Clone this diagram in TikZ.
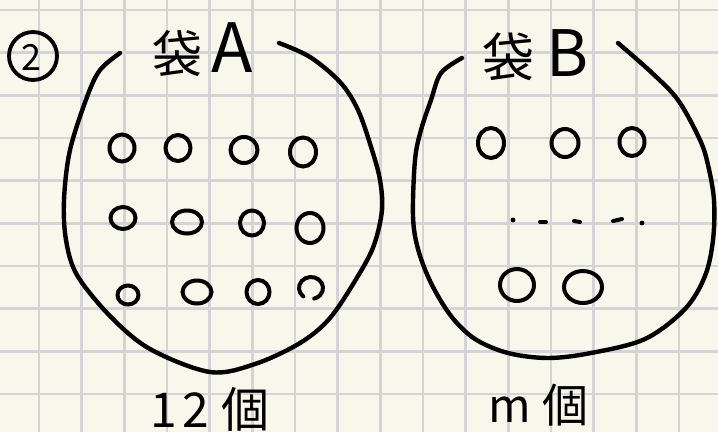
\documentclass[tikz,border=0pt]{standalone}
\usepackage{fontspec}
\newfontfamily\jp{Noto Sans CJK JP}
\definecolor{bgc}{RGB}{248,247,235}
\definecolor{gridc}{RGB}{212,212,216}
\begin{document}
\begin{tikzpicture}[x=1pt,y=-1pt,
  ink/.style={line width=4.4pt, line cap=round, line join=round, black},
  bead/.style={line width=4pt, line cap=round, black},
  gridline/.style={gridc, line width=2.6pt},
  lbl/.style={inner sep=0pt, font=\jp, black}]
\fill[bgc] (0,0) rectangle (718,432);
\useasboundingbox (0,0) rectangle (718,432);
% grid
\foreach \k in {0,...,15} \draw[gridline] ({39+42.67*\k},0) -- ({39+42.67*\k},432);
\foreach \k in {0,...,9} \draw[gridline] (0,{10+42.67*\k}) -- (718,{10+42.67*\k});
% number
\node[circle, draw, line width=3.8pt, minimum size=48pt, inner sep=0pt] (num) at (33,56) {};
\node[lbl, font=\jp\fontsize{36}{36}\selectfont] (numtext) at (31,57) {2};
% titles
\node[lbl, anchor=base west, font=\jp\fontsize{50}{50}\selectfont] (titleA) at (152,72) {袋\hspace{9pt}{\fontsize{68}{68}\selectfont A}};
\node[lbl, anchor=base west, font=\jp\fontsize{52}{52}\selectfont] (titleB) at (482,76) {袋\hspace{12pt}{\fontsize{64}{64}\selectfont B}};
% bag A
\draw[ink] plot[smooth, tension=0.55] coordinates {(120,53) (100,70) (87,97) (70,150) (64,200) (66,240) (77,275) (110,316) (150,349) (210,372) (255,364) (300,343) (330,318) (358,276) (374,245) (382,210) (380,180) (372,150) (358,110) (340,82) (310,57) (279,43)};
% bag B
\draw[ink] plot[smooth, tension=0.55] coordinates {(462,58) (441,73) (431,100) (421,130) (415,160) (413,216) (418,249) (431,283) (451,316) (475,339) (508,353) (548,358) (591,353) (645,339) (685,309) (705,276) (713,240) (714,200) (708,165) (700,140) (678,100) (651,72) (618,43)};
% beads in A
\draw[bead] (122,148) ellipse [x radius=12.5, y radius=13.5];
\draw[bead] (178,148) ellipse [x radius=12.5, y radius=13];
\draw[bead] (244,150) ellipse [x radius=13.5, y radius=13];
\draw[bead] (303,152) ellipse [x radius=13, y radius=14.5];
\draw[bead] (123,218) ellipse [x radius=12.5, y radius=11];
\draw[bead] (187,222) ellipse [x radius=15, y radius=11.5];
\draw[bead] (252,223) ellipse [x radius=12, y radius=12.5];
\draw[bead] (310,228) ellipse [x radius=13.5, y radius=15];
\draw[bead] (128,295) ellipse [x radius=10.5, y radius=9.5];
\draw[bead] (197,292) ellipse [x radius=14.5, y radius=11.5];
\draw[bead] (258,292) ellipse [x radius=11.5, y radius=12];
\draw[bead] (311,288) ++(-230:12 and 11) arc[start angle=-230, end angle=75, x radius=12, y radius=11];
% beads in B
\draw[bead] (491,143) ellipse [x radius=13, y radius=15];
\draw[bead] (565,143) ellipse [x radius=13.5, y radius=14];
\draw[bead] (632,142) ellipse [x radius=12.5, y radius=14];
\draw[bead] (517,285) ellipse [x radius=17, y radius=16];
\draw[bead] (583,287) ellipse [x radius=19, y radius=16];
% dotted row in B
\fill (513,220) circle (2.4pt);
\draw[bead] (540,222) -- (546,222);
\draw[bead] (574,221) -- (580,222);
\draw[bead] (613,221) -- (622,219);
\fill (642,223) circle (2.4pt);
% counts
\node[lbl, anchor=base west, font=\jp\fontsize{48}{48}\selectfont] (countA) at (150,427) {1\hspace{6pt}2\hspace{12pt}個};
\node[lbl, anchor=base west, font=\jp\fontsize{46}{46}\selectfont] (countB) at (488,422) {m\hspace{12pt}個};
\end{tikzpicture}
\end{document}
